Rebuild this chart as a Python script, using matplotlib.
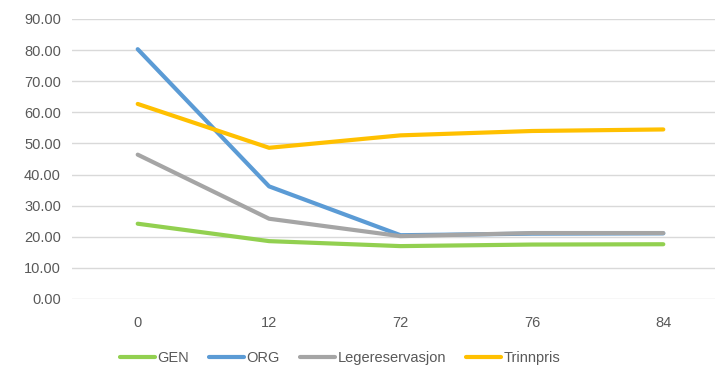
import numpy as np
import matplotlib
matplotlib.use("Agg")
import matplotlib.pyplot as plt

# data
categories = ["0", "12", "72", "76", "84"]
gen = [24.2, 18.6, 17.0, 17.5, 17.6]
org = [80.3, 36.2, 20.5, 21.0, 21.1]
lege = [46.4, 25.8, 20.2, 21.2, 21.2]
trinn = [62.7, 48.6, 52.6, 54.0, 54.5]

series_names = ["GEN", "ORG", "Legereservasjon", "Trinnpris"]
colors = ["#92D050", "#5B9BD5", "#A5A5A5", "#FFC000"]

plt.rcParams["font.family"] = ["Liberation Sans", "DejaVu Sans"]
txt = "#595959"

fig = plt.figure(figsize=(7.15, 3.74), dpi=100)
ax = fig.add_axes([72 / 715, 1 - 299 / 374, 657 / 715, 280 / 374])

x = np.arange(len(categories))
for vals, name, c in zip([gen, org, lege, trinn], series_names, colors):
    ax.plot(x, vals, color=c, lw=3, label=name, solid_capstyle="round")

ax.set_xlim(-0.5, len(categories) - 0.5)
ax.set_ylim(0, 90)
ax.set_yticks(np.arange(0, 91, 10))
ax.set_yticklabels([f"{v:.2f}" for v in np.arange(0, 91, 10)])
ax.set_xticks(x)
ax.set_xticklabels(categories)
ax.grid(axis="y", color="#D9D9D9", lw=1)
ax.set_axisbelow(True)
for s in ax.spines.values():
    s.set_visible(False)
ax.tick_params(axis="both", length=0, colors=txt, labelsize=10.5)
ax.tick_params(axis="x", pad=12)
ax.tick_params(axis="y", pad=8)

leg = fig.legend(loc="center", bbox_to_anchor=(340 / 715, 1 - 358 / 374), ncol=4,
                 frameon=False, fontsize=10.5, handlelength=2.4,
                 handletextpad=0.15, columnspacing=1.4)
for t in leg.get_texts():
    t.set_color(txt)

fig.savefig("out.png", dpi=100)
